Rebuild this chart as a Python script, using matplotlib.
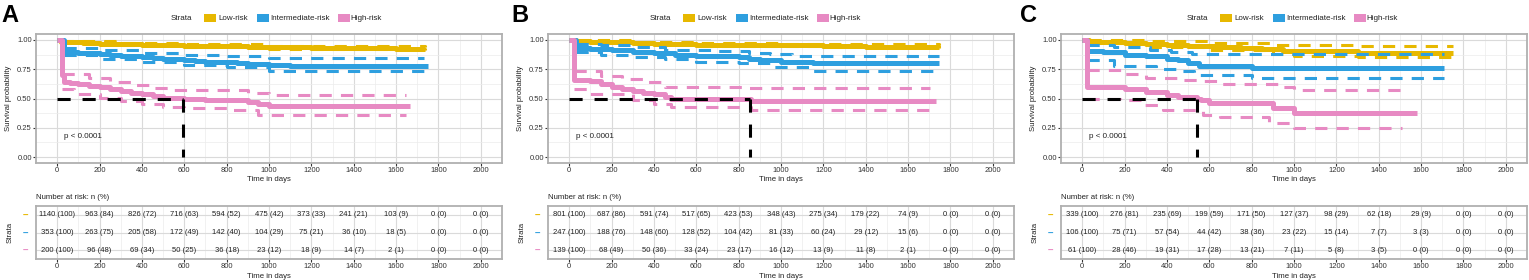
import matplotlib
matplotlib.use("Agg")
import matplotlib.pyplot as plt
from matplotlib.patches import Rectangle

plt.rcParams['font.family'] = ['Liberation Sans', 'DejaVu Sans']

# ---------------- data ----------------
STRATA = ['Low-risk', 'Intermediate-risk', 'High-risk']
COLORS = ['#E7B800', '#2E9FDF', '#E78AC3']
RISK_TIMES = [0, 200, 400, 600, 800, 1000, 1200, 1400, 1600, 1800, 2000]
PANEL_LABELS = ['A', 'B', 'C']
P_TEXT = 'p < 0.0001'
MEDIANS = [592, 855, 542]

# Panel A - survival curves
A_LOW_T = [0, 20, 60, 120, 200, 300, 400, 500, 600, 700, 800, 900, 1000, 1100, 1200, 1400, 1600, 1735]
A_LOW_S = [1.0, 0.985, 0.978, 0.972, 0.968, 0.962, 0.957, 0.953, 0.951, 0.948, 0.944, 0.940, 0.937, 0.935, 0.933, 0.930, 0.926, 0.926]
A_LOW_CI_T = [20, 300, 600, 1000, 1735]
A_LOW_UP = [0.993, 0.972, 0.962, 0.948, 0.940]
A_LOW_LO = [0.978, 0.953, 0.942, 0.926, 0.915]
A_INT_T = [0, 30, 60, 100, 150, 200, 250, 300, 350, 400, 450, 500, 550, 600, 650, 700, 800, 850, 900, 1000, 1100, 1750]
A_INT_S = [1.0, 0.900, 0.895, 0.890, 0.885, 0.880, 0.872, 0.866, 0.860, 0.853, 0.848, 0.840, 0.835, 0.826, 0.820, 0.815, 0.810, 0.800, 0.795, 0.785, 0.780, 0.778]
A_INT_CI_T = [30, 200, 400, 600, 800, 1000, 1730]
A_INT_UP = [0.930, 0.915, 0.890, 0.870, 0.860, 0.847, 0.847]
A_INT_LO = [0.870, 0.840, 0.815, 0.785, 0.765, 0.735, 0.735]
A_HIGH_T = [0, 22, 30, 60, 100, 150, 200, 250, 300, 350, 400, 450, 500, 600, 700, 800, 900, 950, 1000, 1665]
A_HIGH_S = [1.0, 0.700, 0.640, 0.630, 0.620, 0.610, 0.600, 0.585, 0.565, 0.550, 0.535, 0.520, 0.505, 0.495, 0.490, 0.485, 0.470, 0.450, 0.435, 0.435]
A_HIGH_UP_T = [25, 150, 250, 350, 450, 550, 750, 900, 1000, 1645]
A_HIGH_UP = [0.706, 0.678, 0.640, 0.613, 0.593, 0.576, 0.570, 0.548, 0.534, 0.534]
A_HIGH_LO_T = [25, 80, 200, 300, 400, 500, 600, 800, 950, 1645]
A_HIGH_LO = [0.585, 0.540, 0.508, 0.480, 0.452, 0.430, 0.415, 0.400, 0.360, 0.360]

# Panel B - survival curves
B_LOW_T = [0, 30, 100, 200, 300, 400, 500, 600, 800, 1000, 1100, 1200, 1400, 1745]
B_LOW_S = [1.0, 0.990, 0.985, 0.978, 0.972, 0.968, 0.963, 0.960, 0.958, 0.956, 0.952, 0.946, 0.943, 0.943]
B_LOW_CI_T = [30, 300, 600, 1000, 1745]
B_LOW_UP = [0.998, 0.982, 0.970, 0.966, 0.955]
B_LOW_LO = [0.982, 0.962, 0.950, 0.945, 0.930]
B_INT_T = [0, 30, 100, 200, 300, 400, 500, 600, 700, 800, 850, 900, 1000, 1100, 1150, 1745]
B_INT_S = [1.0, 0.930, 0.918, 0.912, 0.895, 0.886, 0.875, 0.866, 0.860, 0.852, 0.838, 0.828, 0.815, 0.810, 0.800, 0.800]
B_INT_UP_T = [30, 150, 300, 450, 700, 850, 950, 1050, 1745]
B_INT_UP = [0.965, 0.955, 0.935, 0.915, 0.905, 0.886, 0.878, 0.866, 0.866]
B_INT_LO_T = [30, 150, 300, 450, 600, 800, 950, 1150, 1745]
B_INT_LO = [0.895, 0.875, 0.855, 0.840, 0.815, 0.800, 0.767, 0.736, 0.736]
B_HIGH_T = [0, 25, 100, 150, 200, 250, 300, 350, 400, 450, 480, 860, 1730]
B_HIGH_S = [1.0, 0.655, 0.645, 0.620, 0.600, 0.580, 0.560, 0.548, 0.537, 0.517, 0.500, 0.480, 0.480]
B_HIGH_UP_T = [25, 150, 250, 350, 450, 850, 1705]
B_HIGH_UP = [0.733, 0.696, 0.668, 0.640, 0.602, 0.590, 0.590]
B_HIGH_LO_T = [25, 100, 300, 400, 480, 600, 860, 1705]
B_HIGH_LO = [0.582, 0.540, 0.488, 0.450, 0.430, 0.425, 0.400, 0.400]

# Panel C - survival curves
C_LOW_T = [0, 30, 100, 200, 300, 400, 500, 650, 750, 850, 950, 1300, 1750]
C_LOW_S = [1.0, 0.985, 0.978, 0.970, 0.963, 0.955, 0.945, 0.937, 0.928, 0.918, 0.902, 0.890, 0.890]
C_LOW_CI_T = [30, 300, 600, 900, 1000, 1300, 1750]
C_LOW_UP = [1.0, 0.988, 0.972, 0.960, 0.952, 0.945, 0.945]
C_LOW_LO = [0.970, 0.940, 0.910, 0.880, 0.865, 0.850, 0.850]
C_INT_T = [0, 25, 100, 200, 300, 400, 450, 500, 550, 800, 1710]
C_INT_S = [1.0, 0.905, 0.895, 0.873, 0.865, 0.840, 0.825, 0.800, 0.780, 0.760, 0.760]
C_INT_UP_T = [25, 150, 320, 420, 520, 1710]
C_INT_UP = [0.960, 0.940, 0.915, 0.900, 0.880, 0.880]
C_INT_LO_T = [25, 150, 350, 450, 530, 800, 1710]
C_INT_LO = [0.830, 0.780, 0.754, 0.735, 0.700, 0.675, 0.675]
C_HIGH_T = [0, 25, 200, 300, 400, 450, 540, 560, 600, 900, 1000, 1580]
C_HIGH_S = [1.0, 0.600, 0.585, 0.556, 0.534, 0.514, 0.500, 0.486, 0.458, 0.415, 0.373, 0.373]
C_HIGH_UP_T = [25, 200, 300, 450, 550, 650, 950, 1000, 1510]
C_HIGH_UP = [0.740, 0.706, 0.672, 0.660, 0.645, 0.627, 0.600, 0.570, 0.570]
C_HIGH_LO_T = [25, 180, 280, 380, 570, 650, 880, 1000, 1510]
C_HIGH_LO = [0.500, 0.486, 0.444, 0.400, 0.360, 0.340, 0.290, 0.246, 0.246]

# Number at risk tables
A_LOW_N = [1140, 963, 826, 716, 594, 475, 373, 241, 103, 0, 0]
A_LOW_P = [100, 84, 72, 63, 52, 42, 33, 21, 9, 0, 0]
A_INT_N = [353, 263, 205, 172, 142, 104, 75, 36, 18, 0, 0]
A_INT_P = [100, 75, 58, 49, 40, 29, 21, 10, 5, 0, 0]
A_HIGH_N = [200, 96, 69, 50, 36, 23, 18, 14, 2, 0, 0]
A_HIGH_P = [100, 48, 34, 25, 18, 12, 9, 7, 1, 0, 0]

B_LOW_N = [801, 687, 591, 517, 423, 348, 275, 179, 74, 0, 0]
B_LOW_P = [100, 86, 74, 65, 53, 43, 34, 22, 9, 0, 0]
B_INT_N = [247, 188, 148, 128, 104, 81, 60, 29, 15, 0, 0]
B_INT_P = [100, 76, 60, 52, 42, 33, 24, 12, 6, 0, 0]
B_HIGH_N = [139, 68, 50, 33, 23, 16, 13, 11, 2, 0, 0]
B_HIGH_P = [100, 49, 36, 24, 17, 12, 9, 8, 1, 0, 0]

C_LOW_N = [339, 276, 235, 199, 171, 127, 98, 62, 29, 0, 0]
C_LOW_P = [100, 81, 69, 59, 50, 37, 29, 18, 9, 0, 0]
C_INT_N = [106, 75, 57, 44, 38, 23, 15, 7, 3, 0, 0]
C_INT_P = [100, 71, 54, 42, 36, 22, 14, 7, 3, 0, 0]
C_HIGH_N = [61, 28, 19, 17, 13, 7, 5, 3, 0, 0, 0]
C_HIGH_P = [100, 46, 31, 28, 21, 11, 8, 5, 0, 0, 0]

PANELS = [
    dict(curves=[(A_LOW_T, A_LOW_S), (A_INT_T, A_INT_S), (A_HIGH_T, A_HIGH_S)],
         ups=[(A_LOW_CI_T, A_LOW_UP), (A_INT_CI_T, A_INT_UP), (A_HIGH_UP_T, A_HIGH_UP)],
         los=[(A_LOW_CI_T, A_LOW_LO), (A_INT_CI_T, A_INT_LO), (A_HIGH_LO_T, A_HIGH_LO)],
         risk=[(A_LOW_N, A_LOW_P), (A_INT_N, A_INT_P), (A_HIGH_N, A_HIGH_P)]),
    dict(curves=[(B_LOW_T, B_LOW_S), (B_INT_T, B_INT_S), (B_HIGH_T, B_HIGH_S)],
         ups=[(B_LOW_CI_T, B_LOW_UP), (B_INT_UP_T, B_INT_UP), (B_HIGH_UP_T, B_HIGH_UP)],
         los=[(B_LOW_CI_T, B_LOW_LO), (B_INT_LO_T, B_INT_LO), (B_HIGH_LO_T, B_HIGH_LO)],
         risk=[(B_LOW_N, B_LOW_P), (B_INT_N, B_INT_P), (B_HIGH_N, B_HIGH_P)]),
    dict(curves=[(C_LOW_T, C_LOW_S), (C_INT_T, C_INT_S), (C_HIGH_T, C_HIGH_S)],
         ups=[(C_LOW_CI_T, C_LOW_UP), (C_INT_UP_T, C_INT_UP), (C_HIGH_UP_T, C_HIGH_UP)],
         los=[(C_LOW_CI_T, C_LOW_LO), (C_INT_LO_T, C_INT_LO), (C_HIGH_LO_T, C_HIGH_LO)],
         risk=[(C_LOW_N, C_LOW_P), (C_INT_N, C_INT_P), (C_HIGH_N, C_HIGH_P)]),
]

# ---------------- layout ----------------
W, H = 1529, 280
fig = plt.figure(figsize=(W / 100, H / 100), dpi=100)

AX_LEFT = [36, 548, 1061]
AX_W = 466
LEGEND_X = [171, 650, 1187]
LETTER_X = [1, 511, 1020]
FS = 5.6
GRID_MAJ = '#DADADA'
GRID_MIN = '#ECECEC'
BORDER = '#B0B0B0'
DASH_CI = (0, (4.0, 3.0))
DASH_MED = (0, (4.3, 3.9))


def style_axes(ax):
    ax.set_xticks(RISK_TIMES)
    ax.set_xticks([t + 100 for t in RISK_TIMES[:-1]], minor=True)
    ax.grid(True, which='major', color=GRID_MAJ, lw=0.8)
    ax.grid(True, which='minor', color=GRID_MIN, lw=0.5)
    ax.set_axisbelow(True)
    for sp in ax.spines.values():
        sp.set_color(BORDER)
        sp.set_linewidth(1.3)
    ax.tick_params(which='major', length=2, width=0.8, color='#333333', pad=1,
                   labelsize=5.5, labelcolor='#333333')
    ax.tick_params(which='minor', length=0)


for i, P in enumerate(PANELS):
    left = AX_LEFT[i]
    ax = fig.add_axes([left / W, 1 - 163 / H, AX_W / W, 129 / H])
    ax.set_xlim(-100, 2100)
    ax.set_ylim(-0.05, 1.05)
    style_axes(ax)
    ax.set_yticks([0, 0.25, 0.5, 0.75, 1.0])
    ax.set_yticklabels(['0.00', '0.25', '0.50', '0.75', '1.00'])
    ax.set_yticks([0.125, 0.375, 0.625, 0.875], minor=True)

    for k in range(3):
        t, s = P['curves'][k]
        ax.step(t, s, where='post', color=COLORS[k], lw=3.6, solid_capstyle='butt', zorder=3 + k)
        tu, u = P['ups'][k]
        tl, l = P['los'][k]
        ax.step(tu, u, where='post', color=COLORS[k], lw=2.2, ls=DASH_CI, zorder=3 + k)
        ax.step(tl, l, where='post', color=COLORS[k], lw=2.2, ls=DASH_CI, zorder=3 + k)

    med = MEDIANS[i]
    ax.plot([0, med], [0.5, 0.5], color='black', lw=2.2, ls=DASH_MED, zorder=8)
    ax.plot([med, med], [0.5, 0.0], color='black', lw=2.2, ls=DASH_MED, zorder=8)

    ax.text(30, 0.18, P_TEXT, fontsize=5.8, va='center', ha='left', color='#222222')
    ax.set_xlabel('Time in days', fontsize=FS, labelpad=1.5, color='#222222')
    ax.set_ylabel('Survival probability', fontsize=FS, labelpad=3.5, color='#222222')

    # legend
    lx = LEGEND_X[i]
    ly = 1 - 18 / H
    fig.text(lx / W, ly, 'Strata', fontsize=5.8, va='center', ha='left', color='#222222')
    key_off = [33, 86, 167]
    lab_off = [47, 99, 179]
    for k in range(3):
        fig.add_artist(Rectangle(((lx + key_off[k]) / W, ly - 3.5 / H), 12 / W, 7 / H,
                                 transform=fig.transFigure, facecolor=COLORS[k], edgecolor='none'))
        fig.text((lx + lab_off[k]) / W, ly, STRATA[k], fontsize=5.8, va='center', ha='left',
                 color='#222222')

    # panel letter
    fig.text(LETTER_X[i] / W, 1 - 15 / H, PANEL_LABELS[i], fontsize=17, fontweight='bold',
             va='center', ha='left')

    # risk table
    tab = fig.add_axes([left / W, 1 - 259 / H, AX_W / W, 53 / H])
    tab.set_xlim(-100, 2100)
    tab.set_ylim(0.5, 3.5)
    style_axes(tab)
    tab.set_yticks([3, 2, 1])
    tab.set_yticklabels(['\u2013'] * 3, fontsize=7, fontweight='bold')
    for lab, c in zip(tab.get_yticklabels(), COLORS):
        lab.set_color(c)
    tab.tick_params(axis='y', length=0, pad=6)
    for k in range(3):
        n, p = P['risk'][k]
        y = 3 - k
        for t, nv, pv in zip(RISK_TIMES, n, p):
            tab.text(t, y, f'{nv} ({pv})', fontsize=5.5, ha='center', va='center', color='#222222')
    tab.set_xlabel('Time in days', fontsize=FS, labelpad=2, color='#222222')
    tab.set_ylabel('Strata', fontsize=FS, labelpad=6, color='#222222')
    fig.text(left / W, 1 - 197.5 / H, 'Number at risk: n (%)', fontsize=FS, va='center',
             ha='left', color='#222222')

fig.savefig('out.png', dpi=100)
